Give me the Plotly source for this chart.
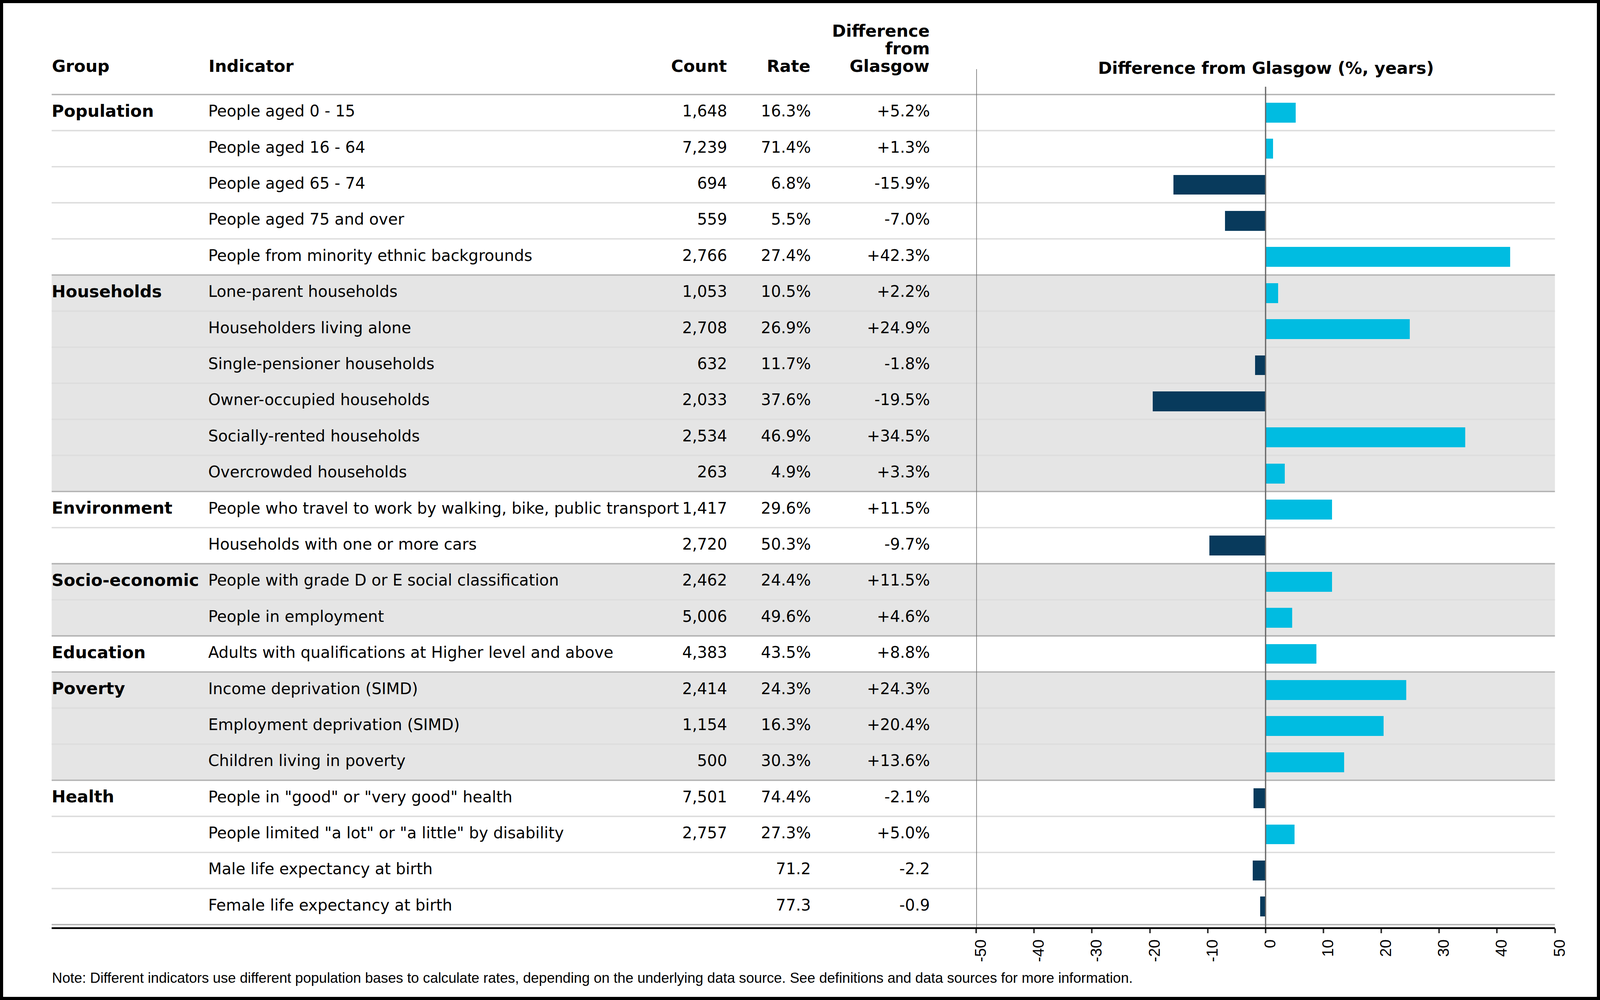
import plotly.graph_objects as go

# ---------------- data ----------------
groups = ["Population", "Households", "Environment", "Socio-economic",
          "Education", "Poverty", "Health"]
group_sizes = [5, 6, 2, 2, 1, 3, 4]
indicators = [
    "People aged 0 - 15",
    "People aged 16 - 64",
    "People aged 65 - 74",
    "People aged 75 and over",
    "People from minority ethnic backgrounds",
    "Lone-parent households",
    "Householders living alone",
    "Single-pensioner households",
    "Owner-occupied households",
    "Socially-rented households",
    "Overcrowded households",
    "People who travel to work by walking, bike, public transport",
    "Households with one or more cars",
    "People with grade D or E social classification",
    "People in employment",
    "Adults with qualifications at Higher level and above",
    "Income deprivation (SIMD)",
    "Employment deprivation (SIMD)",
    "Children living in poverty",
    "People in \"good\" or \"very good\" health",
    "People limited \"a lot\" or \"a little\" by disability",
    "Male life expectancy at birth",
    "Female life expectancy at birth",
]
counts = [1648, 7239, 694, 559, 2766, 1053, 2708, 632, 2033, 2534, 263,
          1417, 2720, 2462, 5006, 4383, 2414, 1154, 500, 7501, 2757, None, None]
rates = [16.3, 71.4, 6.8, 5.5, 27.4, 10.5, 26.9, 11.7, 37.6, 46.9, 4.9,
         29.6, 50.3, 24.4, 49.6, 43.5, 24.3, 16.3, 30.3, 74.4, 27.3, 71.2, 77.3]
diffs = [5.2, 1.3, -15.9, -7.0, 42.3, 2.2, 24.9, -1.8, -19.5, 34.5, 3.3,
         11.5, -9.7, 11.5, 4.6, 8.8, 24.3, 20.4, 13.6, -2.1, 5.0, -2.2, -0.9]
units = ["%"] * 21 + ["", ""]
x_ticks = [-50, -40, -30, -20, -10, 0, 10, 20, 30, 40, 50]

header_cols = ["Group", "Indicator", "Count", "Rate"]
diff_header = ["Difference", "from", "Glasgow"]
bar_title = "Difference from Glasgow (%, years)"
note = ("Note: Different indicators use different population bases to calculate rates, "
        "depending on the underlying data source. See definitions and data sources for more information.")

# ---------------- geometry ----------------
# design values are in reference-image pixels (4480 x 2560); the page is 4096 x 2560
SX = 4096 / 4480
OFF = 8
W, H = 4080, 2544


def PX(v):
    return v * SX - OFF


def PY(v):
    return v - OFF


def fx(v):
    return PX(v) / W


def fy(v):
    return 1 - PY(v) / H


def F(sz):
    return sz * SX


n = len(indicators)
ROW_TOP = 242
ROW_BOTTOM = 2367
ROW_H = (ROW_BOTTOM - ROW_TOP) / n
PLOT_TOP = 222
AXIS_Y = 2376
LEFT = 134
RIGHT = 4389
BAR_L = 2751
X_GROUP, X_IND, X_COUNT, X_RATE, X_DIFF = 134, 577, 2046, 2283, 2620

POS_COL = "#00BCE1"
NEG_COL = "#083A5C"
BAND = "#E5E5E5"
DARK_LINE = "#B3B3B3"
LIGHT_LINE = "#DDDDDD"
TEXT_FONT = "DejaVu Sans"
SANS = "Liberation Sans, Arial"

y_top = -0.5 - (ROW_TOP - PLOT_TOP) / ROW_H
y_bot = n - 0.5 + (AXIS_Y - ROW_BOTTOM) / ROW_H

rows = list(range(n))
starts = []
s = 0
for g in group_sizes:
    starts.append(s)
    s += g

fig = go.Figure()

# bars
fig.add_trace(go.Bar(
    x=diffs, y=rows, orientation="h", width=0.55,
    marker=dict(color=[POS_COL if d >= 0 else NEG_COL for d in diffs], line=dict(width=0)),
    xaxis="x", yaxis="y", hoverinfo="skip", showlegend=False,
))


def txt(xpos, ys, texts, pos, size=44, weight="normal"):
    fig.add_trace(go.Scatter(
        x=[PX(xpos)] * len(ys), y=ys, text=texts, mode="text", textposition=pos,
        textfont=dict(family=TEXT_FONT, size=F(size), color="black", weight=weight),
        xaxis="x2", yaxis="y", hoverinfo="skip", showlegend=False, cliponaxis=False,
    ))


txt(X_GROUP, starts, groups, "middle right", size=47, weight="bold")
txt(X_IND, rows, indicators, "middle right")
txt(X_COUNT, rows, ["" if c is None else f"{c:,}" for c in counts], "middle left")
txt(X_RATE, rows, [f"{r:.1f}{u}" for r, u in zip(rates, units)], "middle left")
txt(X_DIFF, rows, [f"{d:+.1f}{u}" for d, u in zip(diffs, units)], "middle left")

shapes = []
for gi, (st, sz) in enumerate(zip(starts, group_sizes)):
    if gi % 2 == 1:
        shapes.append(dict(type="rect", xref="paper", yref="y", layer="below",
                           x0=fx(LEFT), x1=fx(RIGHT), y0=st - 0.5, y1=st + sz - 0.5,
                           fillcolor=BAND, line=dict(width=0)))
group_edges = set(starts) | {n}
for k in range(n + 1):
    dark = k in group_edges
    shapes.append(dict(type="line", xref="paper", yref="y", layer="below",
                       x0=fx(LEFT), x1=fx(RIGHT), y0=k - 0.5, y1=k - 0.5,
                       line=dict(color=DARK_LINE if dark else LIGHT_LINE, width=3.6)))
shapes.append(dict(type="line", xref="x", yref="paper", layer="above",
                   x0=x_ticks[0], x1=x_ticks[0], y0=fy(177), y1=fy(AXIS_Y),
                   line=dict(color="#707070", width=3.2)))
shapes.append(dict(type="line", xref="x", yref="y", layer="above",
                   x0=0, x1=0, y0=y_top, y1=y_bot,
                   line=dict(color="#666666", width=3.2)))
shapes.append(dict(type="line", xref="paper", yref="paper", layer="above",
                   x0=fx(LEFT), x1=fx(RIGHT), y0=fy(AXIS_Y), y1=fy(AXIS_Y),
                   line=dict(color="black", width=4.5)))

annotations = []


def ann(text, x, y, xanchor, size=47, bold=True, family=TEXT_FONT):
    annotations.append(dict(
        text=f"<b>{text}</b>" if bold else text, x=fx(x), y=fy(y),
        xref="paper", yref="paper", xanchor=xanchor, yanchor="middle",
        showarrow=False, borderpad=0,
        font=dict(family=family, size=F(size), color="black"),
    ))


ann(header_cols[0], X_GROUP, 169, "left")
ann(header_cols[1], X_IND, 169, "left")
ann(header_cols[2], X_COUNT, 169, "right")
ann(header_cols[3], X_RATE, 169, "right")
for line, yy in zip(diff_header, [79, 124, 169]):
    ann(line, X_DIFF, yy, "right")
ann(bar_title, 3571, 174, "center")
ann(note, LEFT, 2503, "left", size=40, bold=False, family=SANS)

fig.update_layout(
    width=W, height=H,
    margin=dict(l=0, r=0, t=0, b=0, pad=0),
    paper_bgcolor="white", plot_bgcolor="rgba(0,0,0,0)",
    showlegend=False, bargap=0,
    xaxis=dict(domain=[fx(BAR_L), fx(RIGHT)], range=[x_ticks[0], x_ticks[-1]],
               anchor="y", showgrid=False, zeroline=False, showline=False,
               tickmode="array", tickvals=x_ticks, ticktext=[str(v) for v in x_ticks],
               ticks="outside", ticklen=12, tickwidth=3.6, tickcolor="#333333",
               tickangle=-90, ticklabelshift=12,
               tickfont=dict(family=SANS, size=40, color="black"),
               fixedrange=True),
    xaxis2=dict(domain=[0, 1], range=[0, W], anchor="y", visible=False, fixedrange=True),
    yaxis=dict(domain=[fy(AXIS_Y), fy(PLOT_TOP)], range=[y_bot, y_top],
               visible=False, fixedrange=True),
    shapes=shapes,
    annotations=annotations,
)

fig.write_html("out.html", post_script="document.body.style.background='black';")
